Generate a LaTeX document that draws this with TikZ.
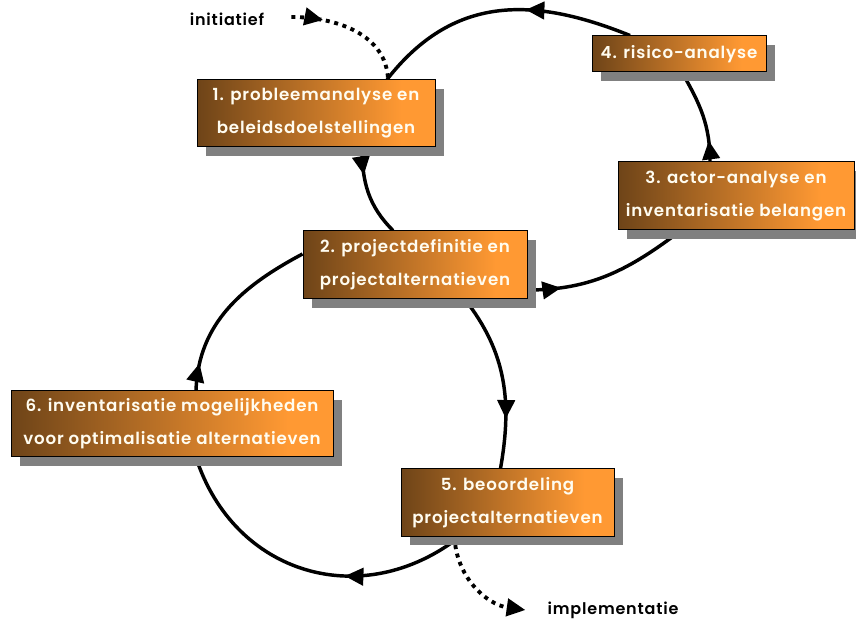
\documentclass[tikz,border=0pt]{standalone}
\usepackage{fontspec}
\setmainfont{Poppins}
\newfontfamily\boxff{Poppins SemiBold}[LetterSpace=5]
\newfontfamily\lblff{Poppins SemiBold}[LetterSpace=5]
\usetikzlibrary{arrows.meta,decorations.markings,calc,shadows,backgrounds}
\definecolor{brdark}{RGB}{110,68,24}
\definecolor{brorange}{RGB}{255,153,51}
\definecolor{shadowgray}{RGB}{128,128,128}
\definecolor{boxtext}{RGB}{255,252,240}
\pgfdeclarehorizontalshading{boxshade}{100bp}{color(0bp)=(brdark); color(25bp)=(brdark); color(68bp)=(brorange); color(100bp)=(brorange)}
\newcommand\boxfont{\boxff\fontsize{12.5}{24.75}\selectfont}
\newcommand\lblfont{\lblff\fontsize{12}{14}\selectfont}
\tikzset{
  stagebox/.style 2 args={draw=black, line width=0.75pt, shade, shading=boxshade,
    minimum width=#1*0.75pt, minimum height=#2*0.75pt, inner sep=0pt,
    align=center, text=boxtext, font=\boxfont,
    drop shadow={shadow xshift=6.75pt, shadow yshift=-6.75pt, fill=shadowgray, opacity=1}},
  lbl/.style={font=\lblfont, text=black, inner sep=0pt},
  flow/.style={line width=2.6pt, draw=black},
  dotflow/.style={line width=2.9pt, draw=black, dash pattern=on 3pt off 3.5pt},
  midarrow/.style={postaction={decorate,decoration={markings,
    mark=at position #1 with {\arrow{Triangle[length=14pt,width=13pt]}}}}},
}
\begin{document}
\begin{tikzpicture}[x=0.75pt,y=0.75pt]
\useasboundingbox (0,0) rectangle (856,621);
\node[stagebox={238}{67}] (b1) at (316,507.5) {1. probleemanalyse en\\beleidsdoelstellingen};
\node[stagebox={224}{68}] (b2) at (415,356) {2. projectdefinitie en\\projectalternatieven};
\node[stagebox={236}{68}] (b3) at (736,425) {3. actor-analyse en\\inventarisatie belangen};
\node[stagebox={174}{36}] (b4) at (679,567) {4. risico-analyse};
\node[stagebox={213}{67}] (b5) at (507.5,118.5) {5. beoordeling\\projectalternatieven};
\node[stagebox={322}{66}] (b6) at (172,197) {6. inventarisatie mogelijkheden\\voor optimalisatie alternatieven};
\node[lbl] (init) at (227,602) {initiatief};
\node[lbl] (impl) at (613,11) {implementatie};
\begin{scope}[on background layer]
  % 4 -> 1
  \draw[flow, midarrow=0.4] ($(b4.north)+(-49,0)$) to[out=158,in=52,looseness=1.1] ($(b1.north)+(71,0)$);
  % 3 -> 4
  \draw[flow, midarrow=0.22] ($(b3.north)+(-26,0)$) to[out=90,in=-60] ($(b4.south)+(3,0)$);
  % 2 -> 3
  \draw[flow, midarrow=0.2] ($(b2.east)+(0,-25)$) to[out=0,in=-143] ($(b3.south)+(-55,0)$);
  % 1 -> 2
  \draw[flow, midarrow=0.3] ($(b1.south)+(46,0)$) to[out=-90,in=135] ($(b2.north)+(-22,0)$);
  % 2 -> 5
  \draw[flow, midarrow=0.72] ($(b2.south)+(50,0)$) to[out=-52,in=80] ($(b5.north)+(-7,0)$);
  % 5 -> 6
  \draw[flow, midarrow=0.38] ($(b5.south)+(-47.5,0)$) to[out=-142,in=-72,looseness=1.15] ($(b6.south)+(24,0)$);
  % 6 -> 2
  \draw[flow, midarrow=0.15] ($(b6.north)+(24,0)$) to[out=88,in=-152] ($(b2.west)+(0,11)$);
  % initiatief -> 1
  \draw[dotflow, midarrow=0.25] ($(init.east)+(27,2)$) to[out=0,in=92] ($(b1.north)+(72,0)$);
  % 5 -> implementatie
  \draw[dotflow, -{Triangle[length=14pt,width=13pt]}] ($(b5.south)+(-53,0)$) to[out=-88,in=172] ($(impl.west)+(-22,0)$);
\end{scope}
\end{tikzpicture}
\end{document}
